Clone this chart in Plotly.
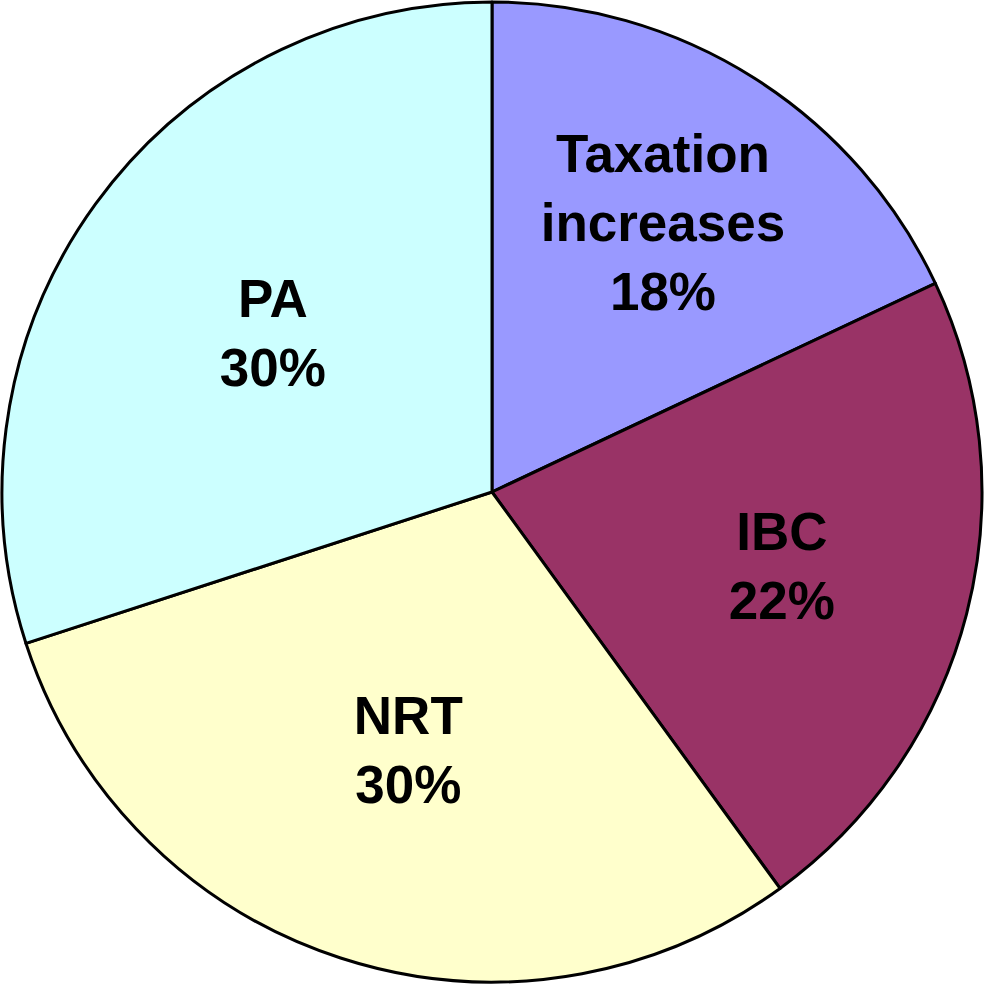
import plotly.graph_objects as go

labels = ["Taxation<br>increases", "IBC", "NRT", "PA"]
values = [18, 22, 30, 30]
colors = ["rgb(153,153,255)", "rgb(153,51,102)", "rgb(255,255,204)", "rgb(204,255,255)"]

fig = go.Figure(go.Pie(
    labels=labels,
    values=values,
    sort=False,
    direction="clockwise",
    rotation=0,
    marker=dict(colors=colors, line=dict(color="black", width=3)),
    texttemplate="<b>%{label}<br>%{percent:.0%}</b>",
    textposition="inside",
    insidetextorientation="horizontal",
    textfont=dict(family="Liberation Sans, Arial", size=53, color="black"),
    hoverinfo="skip",
))

# plot area 980x980 -> pie centred near (492, 492)
fig.update_layout(
    width=986, height=989,
    margin=dict(l=2, r=4, t=2, b=7),
    showlegend=False,
    paper_bgcolor="white",
    uniformtext=dict(minsize=53, mode="show"),
)

# drop the default page margin so the figure sits at the window origin
fig.write_html("out.html", config={"displayModeBar": False},
               post_script="document.body.style.margin='0';")
